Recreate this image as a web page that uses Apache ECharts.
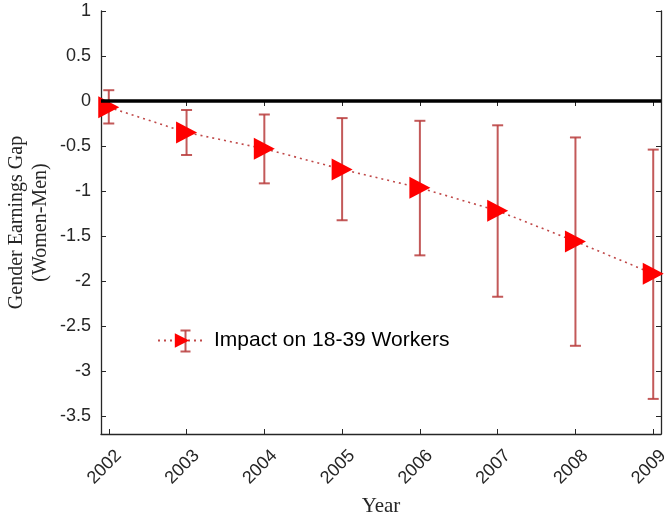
<!DOCTYPE html>
<html>
<head>
<meta charset="utf-8">
<script src="https://cdn.jsdelivr.net/npm/echarts@6/dist/echarts.min.js"></script>
<style>html,body{margin:0;padding:0;background:#fff;}#c{width:665px;height:516px;}</style>
</head>
<body>
<div id="c"></div>
<script>
var years = [2002, 2003, 2004, 2005, 2006, 2007, 2008, 2009];
var estimate = [-0.07, -0.35, -0.53, -0.76, -0.965, -1.22, -1.56, -1.92];
var upper = [0.12, -0.10, -0.15, -0.19, -0.22, -0.27, -0.405, -0.54];
var lower = [-0.25, -0.60, -0.915, -1.325, -1.715, -2.175, -2.72, -3.31];
var yTicks = [-3.5, -3, -2.5, -2, -1.5, -1, -0.5, 0, 0.5, 1];
var seriesName = 'Impact on 18-39 Workers';

var errColor = 'rgba(185,60,60,0.85)';
var axisColor = '#262626';
var sans = 'Liberation Sans, Arial, Helvetica, sans-serif';
var serif = 'Liberation Serif, Times New Roman, serif';

var chart = echarts.init(document.getElementById('c'), null, {renderer: 'canvas'});

var lineData = years.map(function (y, i) { return [y, estimate[i]]; });
var errData = years.map(function (y, i) { return [y, lower[i], upper[i]]; });

var option = {
  animation: false,
  backgroundColor: '#fff',
  grid: {left: 101, right: 4, top: 11, bottom: 82, containLabel: false, outerBoundsMode: 'none'},
  legend: {
    show: true,
    left: 157,
    top: 330,
    padding: 0,
    itemWidth: 48,
    itemHeight: 18,
    itemGap: 0,
    data: [seriesName],
    textStyle: {fontFamily: sans, fontSize: 21, color: '#000', padding: [0, 0, 0, 3]}
  },
  xAxis: [{
    type: 'value',
    min: 2001.9,
    max: 2009.1,
    position: 'bottom',
    name: 'Year',
    nameLocation: 'middle',
    nameGap: 62,
    nameMoveOverlap: false,
    nameTextStyle: {fontFamily: serif, fontSize: 21, color: axisColor},
    axisLine: {show: true, onZero: false, lineStyle: {color: axisColor, width: 1.3}},
    axisTick: {show: true, inside: true, length: 5, customValues: years, lineStyle: {color: axisColor, width: 1}},
    axisLabel: {show: true, rotate: 45, margin: 9, align: 'right', verticalAlign: 'top', lineHeight: 28, customValues: years, fontFamily: sans, fontSize: 18, color: axisColor, formatter: function (v) { return String(v); }},
    splitLine: {show: false}
  }, {
    type: 'value',
    min: 2001.9,
    max: 2009.1,
    position: 'top',
    axisLine: {show: false},
    axisTick: {show: true, inside: true, length: 5, customValues: years, lineStyle: {color: axisColor, width: 1}},
    axisLabel: {show: false},
    splitLine: {show: false}
  }],
  yAxis: [{
    type: 'value',
    min: -3.7,
    max: 1,
    position: 'left',
    name: 'Gender Earnings Gap\n(Women-Men)',
    nameLocation: 'middle',
    nameGap: 48,
    nameMoveOverlap: false,
    nameTextStyle: {fontFamily: serif, fontSize: 20, lineHeight: 24, color: axisColor},
    axisLine: {show: true, onZero: false, lineStyle: {color: axisColor, width: 1.3}},
    axisTick: {show: true, inside: true, length: 5, customValues: yTicks, lineStyle: {color: axisColor, width: 1}},
    axisLabel: {show: true, margin: 10, customValues: yTicks, fontFamily: sans, fontSize: 18, color: axisColor, formatter: function (v) { return String(v); }},
    splitLine: {show: false}
  }, {
    type: 'value',
    min: -3.7,
    max: 1,
    position: 'right',
    axisLine: {show: true, onZero: false, lineStyle: {color: axisColor, width: 1.3}},
    axisTick: {show: true, inside: true, length: 5, customValues: yTicks, lineStyle: {color: axisColor, width: 1}},
    axisLabel: {show: false},
    splitLine: {show: false}
  }],
  series: [{
    type: 'custom',
    name: 'errorbars',
    xAxisIndex: 0,
    yAxisIndex: 0,
    z: 2,
    silent: true,
    renderItem: function (params, api) {
      var x = api.value(0);
      var lo = api.coord([x, api.value(1)]);
      var hi = api.coord([x, api.value(2)]);
      var cap = 5.5;
      var style = {stroke: errColor, lineWidth: 2, fill: null};
      return {
        type: 'group',
        children: [
          {type: 'line', shape: {x1: lo[0], y1: lo[1], x2: hi[0], y2: hi[1]}, style: style},
          {type: 'line', shape: {x1: lo[0] - cap, y1: lo[1], x2: lo[0] + cap, y2: lo[1]}, style: style},
          {type: 'line', shape: {x1: hi[0] - cap, y1: hi[1], x2: hi[0] + cap, y2: hi[1]}, style: style}
        ]
      };
    },
    encode: {x: 0, y: [1, 2]},
    data: errData
  }, {
    type: 'line',
    name: seriesName,
    xAxisIndex: 0,
    yAxisIndex: 0,
    z: 3,
    data: lineData,
    symbol: 'triangle',
    symbolSize: [22, 21],
    symbolRotate: -90,
    showAllSymbol: true,
    itemStyle: {color: '#ff0000', borderWidth: 0},
    lineStyle: {color: '#c04848', width: 1.6, type: [2, 4]},
    markLine: {
      silent: true,
      symbol: 'none',
      z: 5,
      label: {show: false},
      lineStyle: {color: '#000', width: 3.5, type: 'solid'},
      data: [{yAxis: 0}]
    }
  }],
  graphic: [{
    type: 'group',
    left: 178,
    top: 328,
    z: 1,
    silent: true,
    children: [
      {type: 'line', shape: {x1: 5, y1: 0, x2: 5, y2: 21}, style: {stroke: errColor, lineWidth: 2}},
      {type: 'line', shape: {x1: 0, y1: 0, x2: 10, y2: 0}, style: {stroke: errColor, lineWidth: 2}},
      {type: 'line', shape: {x1: 0, y1: 21, x2: 10, y2: 21}, style: {stroke: errColor, lineWidth: 2}}
    ]
  }]
};
chart.setOption(option);
</script>
</body>
</html>
